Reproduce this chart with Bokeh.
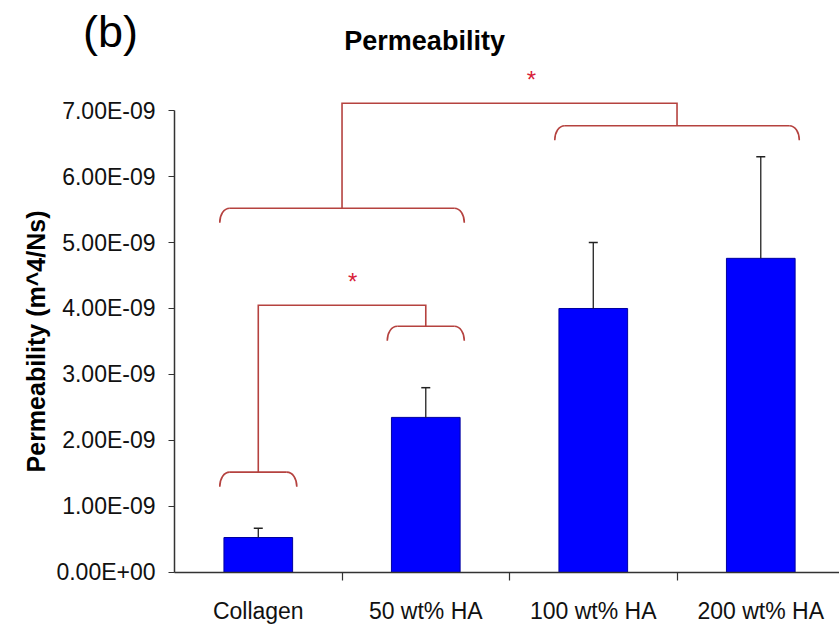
from bokeh.plotting import figure
from bokeh.models import LinearAxis, FixedTicker, Label, Whisker, ColumnDataSource, TeeHead
from bokeh.core.properties import value
from bokeh.embed import file_html
from bokeh.resources import INLINE

# ---------------- data ----------------
categories = ["Collagen", "50 wt% HA", "100 wt% HA", "200 wt% HA"]
permeability_e9 = [0.53, 2.35, 4.00, 4.76]      # x 1e-9 m^4/Ns
std_dev_e9 = [0.14, 0.45, 1.00, 1.54]
y_ticks = [0, 1, 2, 3, 4, 5, 6, 7]
y_tick_labels = ["0.00E+00", "1.00E-09", "2.00E-09", "3.00E-09",
                 "4.00E-09", "5.00E-09", "6.00E-09", "7.00E-09"]

# significance braces: group from first to last category, at a level (x 1e-9)
brace_first = [0, 1, 0, 2]
brace_last = [0, 1, 1, 3]
brace_level = [1.52, 3.73, 5.52, 6.77]
# links joining two braces, each marked with a star
link_a = [0, 2]
link_b = [1, 3]
link_level = [4.05, 7.11]
star_x = [1.063, 2.131]
star_text = ["*", "*"]

FONT = "Liberation Sans"
BRACE_COLOR = "#B5423F"
STAR_COLOR = "#D81E3A"
AXIS_COLOR = "#333333"

centers = [i + 0.5 for i in range(len(categories))]
upper = [m + s for m, s in zip(permeability_e9, std_dev_e9)]

p = figure(width=839, height=629, x_range=(-1.039, 3.970), y_range=(-0.864, 8.667),
           x_axis_type=None, output_backend="svg", toolbar_location=None,
           min_border=0, min_border_left=0, min_border_right=0,
           min_border_top=0, min_border_bottom=0)
p.outline_line_color = None
p.grid.visible = False
p.background_fill_color = "white"
p.border_fill_color = "white"

# bars
src = ColumnDataSource(dict(x=centers, top=permeability_e9, upper=upper))
p.vbar(x="x", top="top", width=0.41, source=src,
       fill_color="#0000FF", line_color="#0000A0", line_width=1)

# error bars (upper only)
p.add_layout(Whisker(source=src, base="x", lower="top", upper="upper",
                     dimension="height", line_color="#222222", line_width=1.3,
                     upper_head=TeeHead(size=9, line_color="#222222", line_width=1.5),
                     lower_head=None, level="overlay"))

# braces
half = 0.23
rx = 0.06
drop = 0.22
h_x0, h_x1, h_y = [], [], []
bz = dict(x0=[], y0=[], x1=[], y1=[], cx0=[], cy0=[], cx1=[], cy1=[])
for f, l, lv in zip(brace_first, brace_last, brace_level):
    xl = centers[f] - half
    xr = centers[l] + half
    h_x0.append(xl + rx); h_x1.append(xr - rx); h_y.append(lv)
    for xe, sgn in ((xl, 1), (xr, -1)):
        bz["x0"].append(xe + sgn * rx); bz["y0"].append(lv)
        bz["cx0"].append(xe + sgn * rx * 0.4); bz["cy0"].append(lv)
        bz["cx1"].append(xe); bz["cy1"].append(lv - drop * 0.45)
        bz["x1"].append(xe); bz["y1"].append(lv - drop)

p.segment(x0=h_x0, y0=h_y, x1=h_x1, y1=h_y, line_color=BRACE_COLOR, line_width=1.6)
p.bezier(x0="x0", y0="y0", x1="x1", y1="y1", cx0="cx0", cy0="cy0", cx1="cx1", cy1="cy1",
         source=ColumnDataSource(bz), line_color=BRACE_COLOR, line_width=1.6)

link_xs, link_ys = [], []
for a, b, lv in zip(link_a, link_b, link_level):
    xa = (centers[brace_first[a]] + centers[brace_last[a]]) / 2
    xb = (centers[brace_first[b]] + centers[brace_last[b]]) / 2
    link_xs.append([xa, xa, xb, xb])
    link_ys.append([brace_level[a], lv, lv, brace_level[b]])
p.multi_line(xs=link_xs, ys=link_ys, line_color=BRACE_COLOR, line_width=1.6,
             line_join="miter")

p.text(x=star_x, y=[lv + 0.36 for lv in link_level], text=star_text,
       text_color=STAR_COLOR, text_font=value(FONT), text_font_size="24px",
       text_align="center", text_baseline="middle")

# y axis (drawn at x = 0 of the category scale)
ya = p.yaxis[0]
ya.fixed_location = 0
ya.ticker = FixedTicker(ticks=y_ticks, minor_ticks=[])
ya.major_label_overrides = dict(zip(y_ticks, y_tick_labels))
ya.bounds = (0, 7)
ya.axis_label = "Permeability (m^4/Ns)"
ya.axis_label_text_font = FONT
ya.axis_label_text_font_style = "bold"
ya.axis_label_text_font_size = "25px"
ya.axis_label_text_color = "black"
ya.axis_label_standoff = 3
ya.major_label_text_font = FONT
ya.major_label_text_font_size = "23px"
ya.major_label_text_color = "#111111"
ya.major_label_standoff = 13
ya.major_tick_in = 0
ya.major_tick_out = 6
ya.minor_tick_in = 0
ya.minor_tick_out = 0
ya.axis_line_color = AXIS_COLOR
ya.axis_line_width = 1.5
ya.major_tick_line_color = AXIS_COLOR
ya.major_tick_line_width = 1.2

# x axis: line and boundary ticks
xt = LinearAxis(ticker=FixedTicker(ticks=[1, 2, 3], minor_ticks=[]),
                fixed_location=0, bounds=(0, 4),
                major_label_overrides={1: "", 2: "", 3: ""},
                major_label_text_font_size="1px", major_label_standoff=0,
                major_tick_in=0, major_tick_out=8,
                axis_line_color=AXIS_COLOR, axis_line_width=1.5,
                major_tick_line_color=AXIS_COLOR, major_tick_line_width=1.2)
p.add_layout(xt, "below")

# x axis: category labels
xl_axis = LinearAxis(ticker=FixedTicker(ticks=centers, minor_ticks=[]),
                     fixed_location=0,
                     major_label_overrides=dict(zip(centers, categories)),
                     major_label_text_font=FONT, major_label_text_font_size="23px",
                     major_label_text_color="#111111", major_label_standoff=20,
                     axis_line_color=None, major_tick_line_color=None,
                     minor_tick_line_color=None)
p.add_layout(xl_axis, "below")

# title and panel letter
p.add_layout(Label(x=1.493, y=8.06, text="Permeability", text_font=FONT,
                   text_font_style="bold", text_font_size="27px", text_color="black",
                   text_align="center", text_baseline="middle"))
p.add_layout(Label(x=-0.382, y=8.20, text="(b)", text_font=FONT,
                   text_font_size="45px", text_color="black",
                   text_align="center", text_baseline="middle"))

open("out.html", "w").write(file_html(p, INLINE))
